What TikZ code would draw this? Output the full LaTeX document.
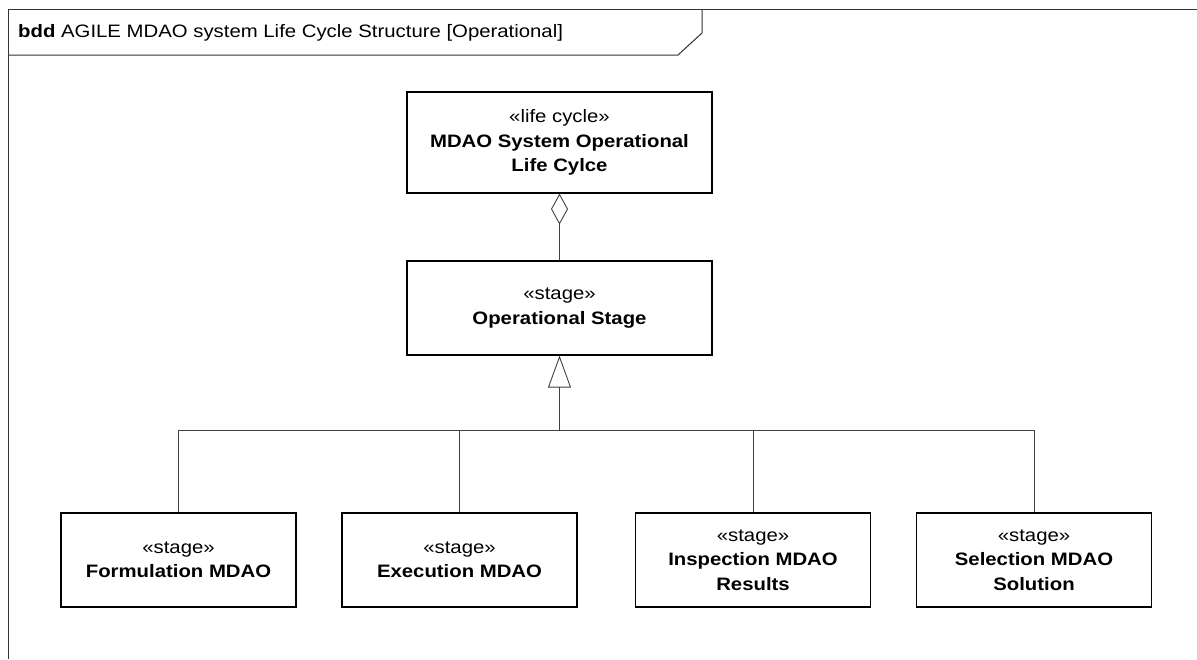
\documentclass[tikz,border=0pt]{standalone}
\usepackage{fontspec}
\setmainfont{Liberation Sans}[FakeStretch=1.13]
\usetikzlibrary{arrows.meta}
\begin{document}
\begin{tikzpicture}[x=1pt,y=-1pt,
  block/.style={draw=black,line width=1.1pt,fill=white,align=center,inner sep=0pt,
    font=\fontsize{18}{24.5}\selectfont},
  topblock/.style={block,minimum width=305pt,minimum height=101pt},
  midblock/.style={block,minimum width=305pt,minimum height=94pt},
  subblock/.style={block,minimum width=235pt,minimum height=94pt},
  conn/.style={draw=black!75,line width=0.9pt},
  frameline/.style={draw=black!80,line width=1pt}]
\useasboundingbox (0,0) rectangle (1197,659);
\fill[white] (0,0) rectangle (1197,659);
% frame and header
\draw[frameline] (1197,9) -- (8,9) -- (8,659);
\draw[frameline] (702,9) -- (702,33) -- (678,55) -- (8,55);
\node[anchor=base west,inner sep=0pt,font=\fontsize{18}{22}\selectfont] (title) at (18,37)
  {\textbf{bdd} AGILE MDAO system Life Cycle Structure [Operational]};
% blocks
\node[topblock] (lc) at (559.5,142.5) {«life cycle»\\\textbf{MDAO System Operational}\\\textbf{Life Cylce}};
\node[midblock] (os) at (559.5,308) {«stage»\\\textbf{Operational Stage}};
\node[subblock] (s1) at (178.5,560) {«stage»\\\textbf{Formulation MDAO}};
\node[subblock] (s2) at (459.5,560) {«stage»\\\textbf{Execution MDAO}};
\node[subblock] (s3) at (753,560) {«stage»\\\textbf{Inspection MDAO}\\\textbf{Results}};
\node[subblock] (s4) at (1034,560) {«stage»\\\textbf{Selection MDAO}\\\textbf{Solution}};
\coordinate (jn) at (559.5,430.5);
% aggregation
\draw[conn,line join=miter,-{Diamond[open,length=31pt,width=17pt,line width=0.9pt]}] (os.north) -- (lc.south);
% generalization
\draw[conn,line join=miter,-{Triangle[open,length=32pt,width=23pt,line width=0.9pt]}] (jn) -- (os.south);
\draw[conn] (s1.north) -- (s1.north |- jn) -- (s4.north |- jn) -- (s4.north);
\draw[conn] (s2.north) -- (s2.north |- jn);
\draw[conn] (s3.north) -- (s3.north |- jn);
\end{tikzpicture}
\end{document}
